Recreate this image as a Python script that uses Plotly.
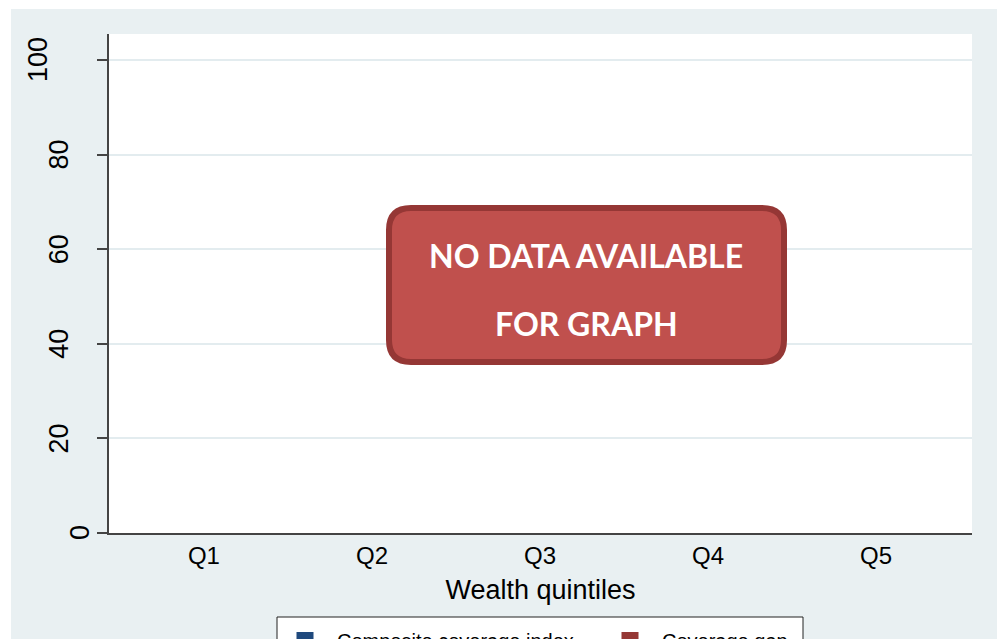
import plotly.graph_objects as go

# ---- data ----
quintiles = ["Q1", "Q2", "Q3", "Q4", "Q5"]
composite_coverage = [None, None, None, None, None]
coverage_gap = [None, None, None, None, None]
y_ticks = [0, 20, 40, 60, 80, 100]
y_tick_labels = ["0", "20", "40", "60", "80", "100"]
series_names = ["Composite coverage index", "Coverage gap"]
x_title = "Wealth quintiles"
notice_lines = ["NO DATA AVAILABLE", "FOR GRAPH"]

OFF = 8  # page body margin
W, H = 1008 - OFF, 639 - OFF
# plot-area edges in screen pixels
L, R, T, B = 109, 972, 34, 533
BG = "#E9F0F2"
GRID = "#E3ECEF"
AXIS = "#444444"


def px(x):
    return (x - L) / (R - L)


def py(y):
    return (B - y) / (B - T)


fig = go.Figure()
fig.add_trace(go.Bar(x=quintiles, y=composite_coverage, name=series_names[0],
                     marker=dict(color="#1F497D", line=dict(color="#1F497D", width=5))))
fig.add_trace(go.Bar(x=quintiles, y=coverage_gap, name=series_names[1],
                     marker=dict(color="#953735", line=dict(color="#953735", width=5))))

# rounded notice box
x0, x1, y0, y1, r = 389, 784, 208, 362, 22
path = (
    f"M {px(x0 + r)},{py(y0)} L {px(x1 - r)},{py(y0)} "
    f"Q {px(x1)},{py(y0)} {px(x1)},{py(y0 + r)} "
    f"L {px(x1)},{py(y1 - r)} Q {px(x1)},{py(y1)} {px(x1 - r)},{py(y1)} "
    f"L {px(x0 + r)},{py(y1)} Q {px(x0)},{py(y1)} {px(x0)},{py(y1 - r)} "
    f"L {px(x0)},{py(y0 + r)} Q {px(x0)},{py(y0)} {px(x0 + r)},{py(y0)} Z"
)
shapes = [
    dict(type="path", xref="paper", yref="paper", path=path,
         fillcolor="#C0504D", line=dict(color="#953735", width=6), layer="above"),
    # white strips outside the graph region
    dict(type="rect", xref="paper", yref="paper", x0=px(0), x1=px(11), y0=py(700), y1=py(0),
         fillcolor="white", line=dict(width=0), layer="below"),
    dict(type="rect", xref="paper", yref="paper", x0=px(997), x1=px(1020), y0=py(700), y1=py(0),
         fillcolor="white", line=dict(width=0), layer="below"),
    dict(type="rect", xref="paper", yref="paper", x0=px(0), x1=px(1020), y0=py(9), y1=py(0),
         fillcolor="white", line=dict(width=0), layer="below"),
    # legend frame
    dict(type="rect", xref="paper", yref="paper", x0=px(277), x1=px(803), y0=py(680), y1=py(617),
         fillcolor="white", line=dict(color="#222222", width=1), layer="above"),
]

annotations = [
    dict(xref="paper", yref="paper", x=px(586), y=py(255), text=notice_lines[0],
         showarrow=False, font=dict(family="Lato", size=32, color="white", weight="bold"),
         xanchor="center", yanchor="middle"),
    dict(xref="paper", yref="paper", x=px(586), y=py(323), text=notice_lines[1],
         showarrow=False, font=dict(family="Lato", size=32, color="white", weight="bold"),
         xanchor="center", yanchor="middle"),
]
# y tick labels (rotated, Stata-style placement), positioned on the y axis scale
for v, lab in zip(y_ticks, y_tick_labels):
    annotations.append(dict(xref="paper", yref="y", x=px(101 - 21 * len(lab)), y=v,
                            text=lab, textangle=-90, showarrow=False,
                            xanchor="center", yanchor="middle",
                            font=dict(size=27, color="black")))

fig.update_layout(
    width=W, height=H,
    margin=dict(l=L - OFF, r=1008 - R, t=T - OFF, b=639 - B, autoexpand=False),
    paper_bgcolor=BG, plot_bgcolor="white",
    barmode="stack",
    font=dict(family="Liberation Sans, Arial, sans-serif", color="black"),
    shapes=shapes, annotations=annotations,
    showlegend=True,
    legend=dict(orientation="h", x=px(273), y=py(621), xanchor="left", yanchor="top",
                bgcolor="rgba(0,0,0,0)", borderwidth=0, traceorder="normal",
                font=dict(size=20), itemwidth=54, entrywidth=256),
    xaxis=dict(type="category", range=[-0.565, 4.571], showgrid=False,
               showline=True, linecolor=AXIS, linewidth=1.5, ticks="",
               tickfont=dict(size=24), title=dict(text=x_title, font=dict(size=27), standoff=13),
               zeroline=False, fixedrange=True),
    yaxis=dict(range=[0, 105.5], tickvals=y_ticks, showgrid=True, gridcolor=GRID, gridwidth=2,
               showline=True, linecolor=AXIS, linewidth=1.5, ticks="outside", ticklen=10,
               tickcolor=AXIS, tickwidth=1.5, showticklabels=False,
               zeroline=False, fixedrange=True),
)

fig.write_html("out.html")
